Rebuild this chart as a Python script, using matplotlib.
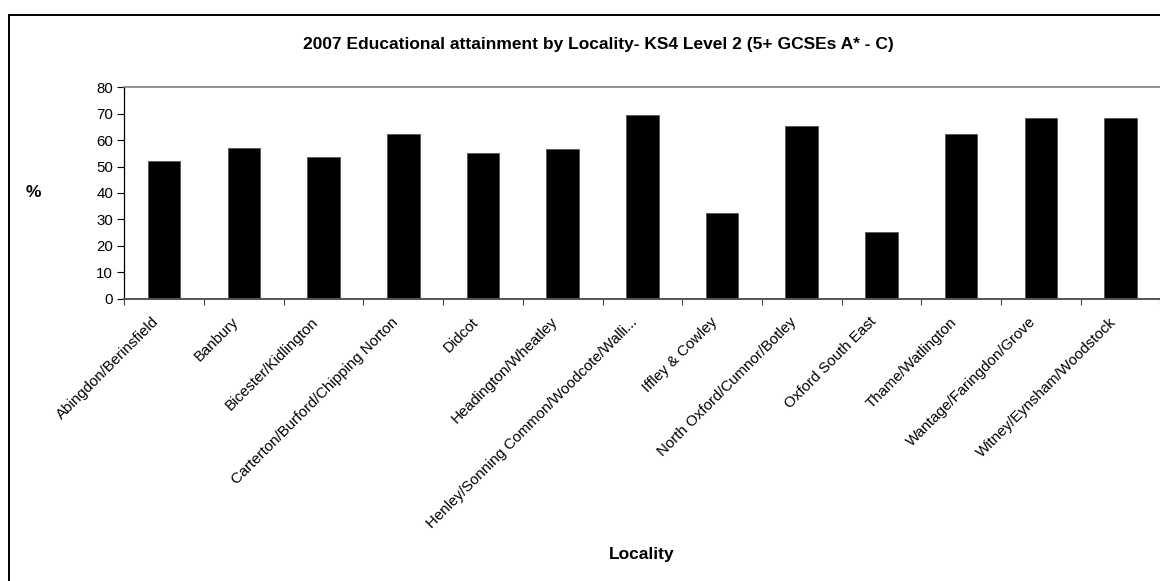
import numpy as np
import matplotlib
matplotlib.use('Agg')
import matplotlib.pyplot as plt
from matplotlib.patches import Rectangle
from matplotlib.transforms import ScaledTranslation

localities = ['Abingdon/Berinsfield', 'Banbury', 'Bicester/Kidlington',
              'Carterton/Burford/Chipping Norton', 'Didcot', 'Headington/Wheatley',
              'Henley/Sonning Common/Woodcote/Walli...', 'Iffley & Cowley',
              'North Oxford/Cumnor/Botley', 'Oxford South East', 'Thame/Watlington',
              'Wantage/Faringdon/Grove', 'Witney/Eynsham/Woodstock']
pct = [52.2, 57.1, 53.5, 62.4, 55.3, 56.6, 69.7, 32.4, 65.4, 25.1, 62.4, 68.4, 68.4]
yticks = list(range(0, 90, 10))

plt.rcParams['font.family'] = ['Liberation Sans', 'DejaVu Sans']

W, H = 1160, 581
fig = plt.figure(figsize=(W / 100, H / 100), dpi=100)

# outer chart frame (right and bottom edges are cut off in the reference)
top = 1 - 15.5 / H
fig.patches.append(Rectangle((9 / W, -0.05), 1.2, top + 0.05,
                             transform=fig.transFigure, fill=False,
                             edgecolor='black', linewidth=1.4))

x0, x1 = 124.3, 1160.4
y0, y1 = 298.7, 87.3
ax = fig.add_axes([x0 / W, 1 - y0 / H, (x1 - x0) / W, (y0 - y1) / H])

x = np.arange(len(localities))
ax.bar(x, pct, width=0.41, color='black', edgecolor='#555555', linewidth=0.6)

ax.set_xlim(-0.5, len(localities) - 0.5)
ax.set_ylim(0, 80)
ax.set_yticks(yticks)
ax.tick_params(axis='y', direction='out', length=5, width=0.8, labelsize=10.8, pad=3)

# ticks between categories, labels at category centres
ax.set_xticks(np.arange(len(localities) + 1) - 0.5)
ax.set_xticklabels([])
ax.tick_params(axis='x', which='major', direction='out', length=4, width=0.8, color='#444444')
ax.set_xticks(x, minor=True)
labels = ax.set_xticklabels(localities, minor=True, rotation=45, ha='right', va='top',
                            rotation_mode='anchor', fontsize=10.8)
ax.tick_params(axis='x', which='minor', length=0, pad=8)
shift = ScaledTranslation(-12 / 100, -5 / 100, fig.dpi_scale_trans)
for t in labels:
    t.set_transform(t.get_transform() + shift)

ax.spines['right'].set_visible(False)
ax.spines['top'].set_color('#808080')
ax.spines['top'].set_linewidth(1.2)
ax.spines['bottom'].set_color('#555555')
ax.spines['bottom'].set_linewidth(1.4)
ax.spines['left'].set_color('black')
ax.spines['left'].set_linewidth(0.9)

fig.text(598 / W, 1 - 45 / H, '2007 Educational attainment by Locality- KS4 Level 2 (5+ GCSEs A* - C)',
         ha='center', va='center', fontsize=12.5, fontweight='bold')
fig.text(33 / W, 1 - 193 / H, '%', ha='center', va='center', fontsize=12.5, fontweight='bold')
fig.text(642 / W, 1 - 555 / H, 'Locality', ha='center', va='center', fontsize=12.5, fontweight='bold')

fig.savefig('out.png', dpi=100)
